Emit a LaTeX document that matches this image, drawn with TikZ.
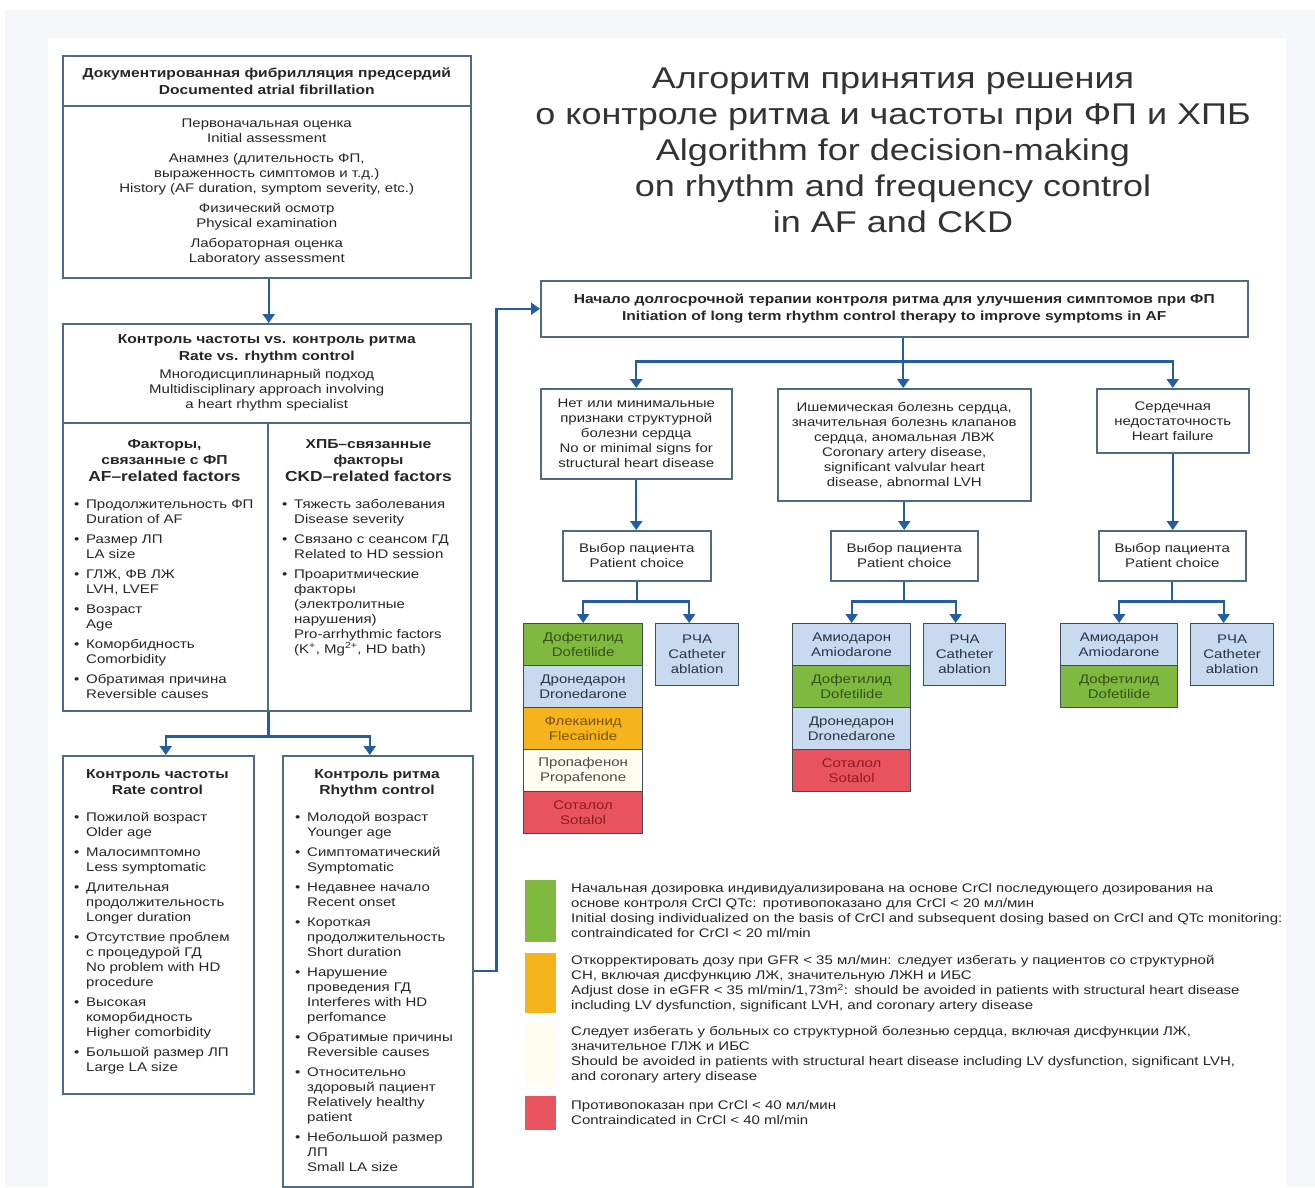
\documentclass[tikz,border=0pt]{standalone}
\usepackage{fontspec}
\setmainfont{Liberation Sans}[FakeStretch=1.2]
\usetikzlibrary{arrows.meta,calc}

\definecolor{panel}{HTML}{F5F7FB}
\definecolor{boxline}{HTML}{4D6A88}
\definecolor{arrowblue}{HTML}{235DA3}
\definecolor{txt}{HTML}{262626}
\definecolor{titlegray}{HTML}{333333}
\definecolor{cgreen}{HTML}{7FB940}
\definecolor{cblue}{HTML}{C8DAEF}
\definecolor{corange}{HTML}{F6B41C}
\definecolor{ccream}{HTML}{FFFDF0}
\definecolor{cred}{HTML}{E8535D}
\definecolor{tgreen}{HTML}{34511A}
\definecolor{torange}{HTML}{7A5200}
\definecolor{tred}{HTML}{8C1B24}
\definecolor{tblue}{HTML}{2B3440}
\definecolor{tcream}{HTML}{4A4A4A}
\definecolor{cellline}{HTML}{3E4C5A}

\newcommand\fbody{\fontsize{12.5}{15}\selectfont}
\newcommand\fhead{\fontsize{13}{17}\selectfont\bfseries}
\newcommand\fsub{\fontsize{13}{16}\selectfont\bfseries}
\newcommand\bul[1]{\par\noindent\hangindent=12pt\hangafter=1\makebox[12pt][l]{\textbullet}{\let\\\newline#1}\par\vskip5pt}

\tikzset{
  box/.style={draw=boxline, line width=1.5pt, fill=white, inner sep=0pt, anchor=north west,
              align=center, font=\fbody, text=txt},
  cell/.style={draw=cellline, line width=1.3pt, inner sep=0pt, anchor=north west,
               align=center, font=\fbody, minimum height=42pt},
  listtxt/.style={anchor=north west, align=left, text width=190pt, inner sep=0pt, font=\fbody, text=txt},
  hdtxt/.style={anchor=north, align=center, text width=195pt, inner sep=0pt, font=\fsub, text=txt},
  legtxt/.style={anchor=north west, align=left, text width=730pt, inner sep=0pt, font=\fbody, text=txt},
  legsq/.style={anchor=north west, inner sep=0pt, minimum width=31pt},
  conn/.style={draw=arrowblue, line width=2.2pt},
  arr/.style={draw=arrowblue, line width=2.2pt, -{Triangle[length=9pt,width=12pt]}},
}

\begin{document}
\begin{tikzpicture}[x=1pt,y=-1pt]
\useasboundingbox (0,0) rectangle (1315,1187);
\fill[white] (0,0) rectangle (1315,1187);
\fill[panel] (5,10) rectangle (1315,1187);
\fill[white] (48,38) rectangle (1286,1187);

% title
\node[align=center, font=\fontsize{30}{36}\selectfont, text=titlegray, inner sep=0pt] (title) at (893,150)
  {Алгоритм принятия решения\\о контроле ритма и частоты при ФП и ХПБ\\Algorithm for decision-making\\on rhythm and frequency control\\in AF and CKD};

% ---------- left column ----------
\node[box, minimum width=408pt, minimum height=50pt, text width=400pt, font=\fhead] (b1h) at (62,55)
  {Документированная фибрилляция предсердий\\Documented atrial fibrillation};
\node[box, minimum width=408pt, minimum height=172pt, text width=400pt] (b1b) at (62,105)
  {Первоначальная оценка\\Initial assessment\\[5pt]Анамнез (длительность ФП,\\выраженность симптомов и т.д.)\\History (AF duration, symptom severity, etc.)\\[5pt]Физический осмотр\\Physical examination\\[5pt]Лабораторная оценка\\Laboratory assessment};

\node[box, minimum width=408pt, minimum height=99pt, text width=400pt] (b2h) at (62,323)
  {{\fhead Контроль частоты vs. контроль ритма\\Rate vs. rhythm control\par}\vskip3pt
   Многодисциплинарный подход\\Multidisciplinary approach involving\\a heart rhythm specialist};
\node[box, minimum width=205pt, minimum height=288pt] (b2l) at (62,422) {};
\node[box, minimum width=203pt, minimum height=288pt] (b2r) at (267,422) {};

\node[hdtxt] (afh) at (164.5,439) {Факторы,\\связанные с ФП\par{\fontsize{14.5}{17}\selectfont AF–related factors\par}};
\node[hdtxt] (ckdh) at (368.5,439) {ХПБ–связанные\\факторы\par{\fontsize{14.5}{17}\selectfont CKD–related factors\par}};

\node[listtxt] (afl) at (74,493) {%
  \bul{Продолжительность ФП\\Duration of AF}%
  \bul{Размер ЛП\\LA size}%
  \bul{ГЛЖ, ФВ ЛЖ\\LVH, LVEF}%
  \bul{Возраст\\Age}%
  \bul{Коморбидность\\Comorbidity}%
  \bul{Обратимая причина\\Reversible causes}};
\node[listtxt, text width=180pt] (ckdl) at (282,493) {%
  \bul{Тяжесть заболевания\\Disease severity}%
  \bul{Связано с сеансом ГД\\Related to HD session}%
  \bul{Проаритмические\\факторы\\(электролитные\\нарушения)\\Pro-arrhythmic factors\\(K\textsuperscript{+}, Mg\textsuperscript{2+}, HD bath)}};

\node[box, minimum width=191pt, minimum height=338pt] (rate) at (62,755) {};
\node[box, minimum width=190pt, minimum height=431pt] (rhythm) at (282,755) {};

\node[hdtxt, text width=185pt] (rateh) at (157.5,769) {Контроль частоты\\Rate control};
\node[hdtxt, text width=185pt] (rhyh) at (377,769) {Контроль ритма\\Rhythm control};

\node[listtxt, text width=180pt] (ratel) at (74,806) {%
  \bul{Пожилой возраст\\Older age}%
  \bul{Малосимптомно\\Less symptomatic}%
  \bul{Длительная\\продолжительность\\Longer duration}%
  \bul{Отсутствие проблем\\с процедурой ГД\\No problem with HD\\procedure}%
  \bul{Высокая\\коморбидность\\Higher comorbidity}%
  \bul{Большой размер ЛП\\Large LA size}};
\node[listtxt, text width=175pt] (rhyl) at (295,806) {%
  \bul{Молодой возраст\\Younger age}%
  \bul{Симптоматический\\Symptomatic}%
  \bul{Недавнее начало\\Recent onset}%
  \bul{Короткая\\продолжительность\\Short duration}%
  \bul{Нарушение\\проведения ГД\\Interferes with HD\\perfomance}%
  \bul{Обратимые причины\\Reversible causes}%
  \bul{Относительно\\здоровый пациент\\Relatively healthy\\patient}%
  \bul{Небольшой размер\\ЛП\\Small LA size}};

% ---------- right column ----------
\node[box, minimum width=707pt, minimum height=56pt, text width=700pt, font=\fhead] (b5) at (540,280)
  {Начало долгосрочной терапии контроля ритма для улучшения симптомов при ФП\\Initiation of long term rhythm control therapy to improve symptoms in AF};

\node[box, minimum width=191pt, minimum height=90pt, text width=185pt] (c6a) at (540,388)
  {Нет или минимальные\\признаки структурной\\болезни сердца\\No or minimal signs for\\structural heart disease};
\node[box, minimum width=253pt, minimum height=112pt, text width=247pt] (c6b) at (777,388)
  {Ишемическая болезнь сердца,\\значительная болезнь клапанов\\сердца, аномальная ЛВЖ\\Coronary artery disease,\\significant valvular heart\\disease, abnormal LVH};
\node[box, minimum width=152pt, minimum height=64pt, text width=146pt] (c6c) at (1096,388)
  {Сердечная\\недостаточность\\Heart failure};

\node[box, minimum width=148pt, minimum height=50pt, text width=142pt] (pca) at (562,530) {Выбор пациента\\Patient choice};
\node[box, minimum width=147pt, minimum height=50pt, text width=141pt] (pcb) at (830,530) {Выбор пациента\\Patient choice};
\node[box, minimum width=147pt, minimum height=50pt, text width=141pt] (pcc) at (1098,530) {Выбор пациента\\Patient choice};

% drug stacks
\node[cell, minimum width=119pt, fill=cgreen, text=tgreen] (da1) at (523,623) {Дофетилид\\Dofetilide};
\node[cell, minimum width=119pt, fill=cblue, text=tblue] (da2) at (523,665) {Дронедарон\\Dronedarone};
\node[cell, minimum width=119pt, fill=corange, text=torange] (da3) at (523,707) {Флекаинид\\Flecainide};
\node[cell, minimum width=119pt, fill=ccream, text=tcream] (da4) at (523,749) {Пропафенон\\Propafenone};
\node[cell, minimum width=119pt, fill=cred, text=tred] (da5) at (523,791) {Соталол\\Sotalol};
\node[cell, minimum width=83pt, minimum height=62pt, fill=cblue, text=tblue] (rfa) at (655,623) {РЧА\\Catheter\\ablation};

\node[cell, minimum width=118pt, fill=cblue, text=tblue] (db1) at (792,623) {Амиодарон\\Amiodarone};
\node[cell, minimum width=118pt, fill=cgreen, text=tgreen] (db2) at (792,665) {Дофетилид\\Dofetilide};
\node[cell, minimum width=118pt, fill=cblue, text=tblue] (db3) at (792,707) {Дронедарон\\Dronedarone};
\node[cell, minimum width=118pt, fill=cred, text=tred] (db4) at (792,749) {Соталол\\Sotalol};
\node[cell, minimum width=82pt, minimum height=62pt, fill=cblue, text=tblue] (rfb) at (923,623) {РЧА\\Catheter\\ablation};

\node[cell, minimum width=117pt, fill=cblue, text=tblue] (dc1) at (1060,623) {Амиодарон\\Amiodarone};
\node[cell, minimum width=117pt, fill=cgreen, text=tgreen] (dc2) at (1060,665) {Дофетилид\\Dofetilide};
\node[cell, minimum width=83pt, minimum height=62pt, fill=cblue, text=tblue] (rfc) at (1190,623) {РЧА\\Catheter\\ablation};

% ---------- connectors ----------
\draw[arr] ([xshift=2pt]b1b.south) -- ([xshift=2pt]b2h.north);
\draw[conn] (b2l.south east) -- ++(0,25) coordinate (j1);
\draw[arr] (j1) -| ([xshift=7.5pt]rate.north);
\draw[arr] (j1) -| ([xshift=-8pt]rhythm.north);
\draw[arr] (rhythm.east) -- ++(23,0) |- (b5.west);

\draw[conn] ([xshift=9pt]b5.south) -- ++(0,24) coordinate (j2);
\draw[arr] (j2) -| (c6a.north);
\draw[arr] (j2) -| ([xshift=-1pt]c6b.north);
\draw[arr] (j2) -| (c6c.north);

\draw[arr] (c6a.south) -- (c6a.south |- pca.north);
\draw[arr] (c6b.south) -- (c6b.south |- pcb.north);
\draw[arr] (c6c.south) -- (c6c.south |- pcc.north);

\draw[conn] (pca.south) -- ++(0,20) coordinate (ja);
\draw[arr] (ja) -| (da1.north);
\draw[arr] (ja) -| ([xshift=-8pt]rfa.north);
\draw[conn] (pcb.south) -- ++(0,20) coordinate (jb);
\draw[arr] (jb) -| (db1.north);
\draw[arr] (jb) -| ([xshift=-9pt]rfb.north);
\draw[conn] (pcc.south) -- ++(0,20) coordinate (jc);
\draw[arr] (jc) -| (dc1.north);
\draw[arr] (jc) -| ([xshift=-8.5pt]rfc.north);

% ---------- legend ----------
\node[legsq, fill=cgreen, minimum height=62pt] (lg1) at (525,880) {};
\node[legsq, fill=corange, minimum height=60pt] (lg2) at (525,953) {};
\node[legsq, fill=ccream, minimum height=62pt] (lg3) at (525,1023) {};
\node[legsq, fill=cred, minimum height=34pt] (lg4) at (525,1096) {};

\node[legtxt] (lt1) at (571,883.5) {Начальная дозировка индивидуализирована на основе CrCl последующего дозирования на\\основе контроля CrCl QTc: противопоказано для CrCl < 20 мл/мин\\Initial dosing individualized on the basis of CrCl and subsequent dosing based on CrCl and QTc monitoring:\\contraindicated for CrCl < 20 ml/min};
\node[legtxt] (lt2) at (571,955.5) {Откорректировать дозу при GFR < 35 мл/мин: следует избегать у пациентов со структурной\\СН, включая дисфункцию ЛЖ, значительную ЛЖН и ИБС\\Adjust dose in eGFR < 35 ml/min/1,73m\textsuperscript{2}: should be avoided in patients with structural heart disease\\including LV dysfunction, significant LVH, and coronary artery disease};
\node[legtxt] (lt3) at (571,1026.5) {Следует избегать у больных со структурной болезнью сердца, включая дисфункции ЛЖ,\\значительное ГЛЖ и ИБС\\Should be avoided in patients with structural heart disease including LV dysfunction, significant LVH,\\and coronary artery disease};
\node[legtxt] (lt4) at (571,1100.5) {Противопоказан при CrCl < 40 мл/мин\\Contraindicated in CrCl < 40 ml/min};
\end{tikzpicture}
\end{document}
